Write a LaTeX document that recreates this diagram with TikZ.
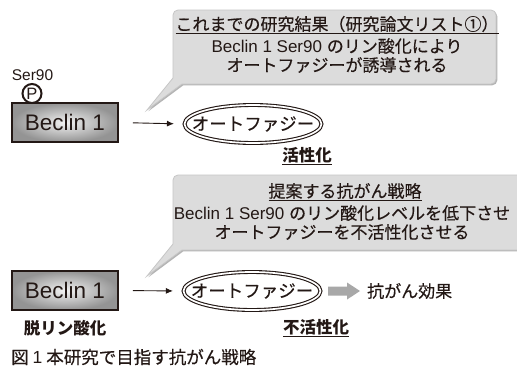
\documentclass[tikz,border=0pt]{standalone}
\usepackage{fontspec}
\setmainfont{Noto Sans CJK JP}[UprightFeatures={FakeBold=0.4}]
\newfontfamily\lat{Liberation Sans}
\usetikzlibrary{shapes.geometric,arrows.meta,calc}
\definecolor{calfill}{HTML}{DCDCDC}
\definecolor{caldraw}{HTML}{C6C6C6}
\definecolor{calshadow}{HTML}{B4B4B4}
\definecolor{ink}{HTML}{231815}
\definecolor{garrow}{HTML}{A8A8A8}
\tikzset{
  calloutshape/.style={fill=calfill, draw=caldraw, line width=0.8pt},
  calloutshadow/.style={fill=calshadow, draw=none},
  callouttext/.style={inner sep=0pt, text=ink, font=\fontsize{17}{20}\selectfont},
  beclinbox/.style={draw=ink, line width=1.8pt, inner sep=0pt, minimum width=106pt, minimum height=39pt,
    inner color=black!5, outer color=black!42, text=ink, font=\lat\fontsize{22.5}{24}\selectfont},
  autoell/.style={ellipse, draw=ink, double=white, double distance=1.7pt, line width=1.1pt, inner sep=0pt,
    minimum width=137pt, minimum height=38pt},
  elltext/.style={inner sep=0pt, text=ink, font=\fontsize{17.5}{20}\selectfont},
  conn/.style={draw=ink, line width=0.9pt, -{Latex[length=7pt,width=6pt]}},
  boldlabel/.style={inner sep=0pt, text=ink, font=\bfseries\fontsize{16.5}{20}\selectfont},
  plainlabel/.style={inner sep=0pt, text=ink, font=\fontsize{17}{20}\selectfont},
}
\begin{document}
\begin{tikzpicture}[x=1pt,y=-1pt]
\useasboundingbox[fill=white] (0,0) rectangle (517,370);

% ---------- top row ----------
\path[calloutshadow, shift={(1.3,1.3)}] (173,78) -- (147,110) -- (182,84)
  [rounded corners=5] -- (496,84) -- (496,10) -- (173,10) [sharp corners] -- (173,78) -- cycle;
\path[calloutshape] (173,78) -- (147,110) -- (182,84)
  [rounded corners=5] -- (496,84) -- (496,10) -- (173,10) [sharp corners] -- (173,78) -- cycle;
\node[callouttext] (c1a) at (337,25) {\underline{これまでの研究結果（研究論文リスト①）}};
\node[callouttext] (c1b) at (337,46) {{\lat Beclin 1 Ser90 }のリン酸化により};
\node[callouttext] (c1c) at (337,65) {オートファジーが誘導される};

\node[beclinbox] (b1) at (65,122.5) {Beclin 1};
\node[inner sep=0pt, text=ink, font=\lat\fontsize{15.5}{16}\selectfont] (s1) at (32.5,75.5) {Ser90};
\node[circle, draw=ink, line width=2pt, fill=white, inner sep=0pt, minimum size=19pt,
  text=ink, font=\lat\fontsize{16.5}{17}\selectfont] (p1) at (32,93.5) {P};

\node[autoell] (e1) at (253,124) {};
\node[elltext] (t1) at (e1.center) {オートファジー};
\draw[conn, shorten <=14pt, shorten >=10pt] (b1.east) -- (e1.west);
\node[boldlabel] (a1) at (307,156) {\underline{活性化}};

% ---------- bottom row ----------
\path[calloutshadow, shift={(1.3,1.3)}] (173,244) -- (147,276) -- (182,250)
  [rounded corners=5] -- (530,250) -- (530,175) -- (173,175) [sharp corners] -- (173,244) -- cycle;
\path[calloutshape] (173,244) -- (147,276) -- (182,250)
  [rounded corners=5] -- (530,250) -- (530,175) -- (173,175) [sharp corners] -- (173,244) -- cycle;
\node[callouttext] (c2a) at (345,192) {\underline{提案する抗がん戦略}};
\node[callouttext] (c2b) at (342,213) {{\lat Beclin 1 Ser90 }のリン酸化レベルを低下させ};
\node[callouttext] (c2c) at (342,232) {オートファジーを不活性化させる};

\node[beclinbox] (b2) at (65,290.5) {Beclin 1};
\node[boldlabel] (d2) at (65,328) {脱リン酸化};

\node[autoell] (e2) at (252,291) {};
\node[elltext] (t2) at (e2.center) {オートファジー};
\draw[conn, shorten <=14pt, shorten >=10pt] (b2.east) -- (e2.west);
\node[boldlabel] (a2) at (316,328) {\underline{不活性化}};

\node[plainlabel, anchor=west] (k2) at (367,291) {抗がん効果};
\fill[garrow] ($(e2.east)+(7,-4.5)$) -- ($(e2.east)+(26,-4.5)$) -- ($(e2.east)+(26,-8.5)$)
  -- ($(k2.west)+(-7,0)$) -- ($(e2.east)+(26,8.5)$) -- ($(e2.east)+(26,4.5)$)
  -- ($(e2.east)+(7,4.5)$) -- cycle;

% ---------- caption ----------
\node[inner sep=0pt, anchor=west, text=ink, font=\fontsize{17.5}{20}\selectfont] (cap) at (11,357)
  {図 {\lat 1} 本研究で目指す抗がん戦略};
\end{tikzpicture}
\end{document}
